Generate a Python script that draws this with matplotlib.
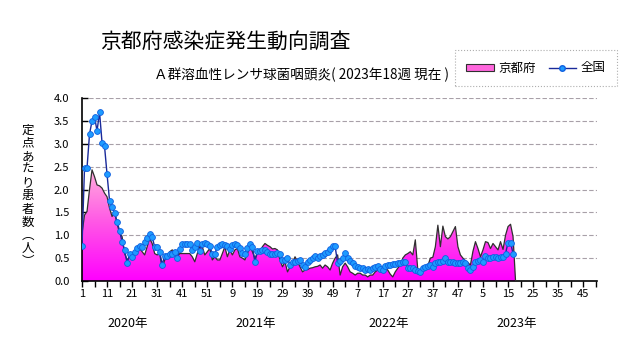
import numpy as np
import matplotlib
matplotlib.use("Agg")
import matplotlib.pyplot as plt
from matplotlib.colors import LinearSegmentedColormap
from matplotlib.patches import Patch
from matplotlib.lines import Line2D

plt.rcParams['font.family'] = ['Noto Sans CJK JP', 'DejaVu Sans']

# weekly values, index 0 = 2020 week 1 (52 weeks per year on this chart)
kyoto = [
    1.04, 1.44, 1.52, 2.00, 2.43, 2.28, 2.10, 2.08, 2.03, 1.92,
    1.84, 1.59, 1.41, 1.52, 1.26, 1.04, 0.97, 0.60, 0.46, 0.53,
    0.46, 0.60, 0.68, 0.71, 0.64, 0.57, 0.75, 0.93, 0.82, 0.60,
    0.57, 0.60, 0.28, 0.46, 0.50, 0.64, 0.68, 0.64, 0.53, 0.60,
    0.60, 0.60, 0.60, 0.60, 0.53, 0.42, 0.60, 0.75, 0.75, 0.57,
    0.64, 0.71, 0.46, 0.53, 0.46, 0.46, 0.60, 0.75, 0.53, 0.68,
    0.57, 0.68, 0.71, 0.53, 0.50, 0.46, 0.60, 0.75, 0.64, 0.50,
    0.60, 0.64, 0.75, 0.82, 0.78, 0.75, 0.70, 0.71, 0.68, 0.46,
    0.31, 0.42, 0.20, 0.31, 0.39, 0.53, 0.42, 0.31, 0.20, 0.24,
    0.25, 0.28, 0.29, 0.31, 0.32, 0.35, 0.28, 0.35, 0.31, 0.24,
    0.39, 0.50, 0.57, 0.13, 0.31, 0.39, 0.31, 0.20, 0.17, 0.13,
    0.17, 0.17, 0.13, 0.13, 0.09, 0.13, 0.13, 0.20, 0.24, 0.24,
    0.31, 0.28, 0.24, 0.15, 0.09, 0.20, 0.28, 0.35, 0.50, 0.57,
    0.60, 0.64, 0.57, 0.90, 0.24, 0.17, 0.24, 0.28, 0.33, 0.50,
    0.52, 0.75, 1.22, 0.75, 1.20, 0.97, 0.92, 0.97, 1.08, 1.19,
    0.75, 0.57, 0.50, 0.44, 0.40, 0.35, 0.65, 0.86, 0.71, 0.53,
    0.68, 0.86, 0.84, 0.71, 0.82, 0.75, 0.68, 0.86, 0.69, 1.00,
    1.19, 1.24, 0.97, 0.00,
]

national = [
    0.77, 2.47, 2.47, 3.21, 3.50, 3.59, 3.28, 3.69, 3.02, 2.94,
    2.33, 1.75, 1.62, 1.49, 1.29, 1.10, 0.85, 0.68, 0.39, 0.59,
    0.53, 0.64, 0.72, 0.77, 0.75, 0.86, 0.93, 1.02, 0.97, 0.74,
    0.74, 0.64, 0.36, 0.55, 0.55, 0.60, 0.60, 0.64, 0.50, 0.71,
    0.80, 0.80, 0.80, 0.80, 0.67, 0.74, 0.84, 0.66, 0.81, 0.84,
    0.81, 0.77, 0.58, 0.60, 0.74, 0.78, 0.81, 0.78, 0.77, 0.71,
    0.78, 0.81, 0.78, 0.72, 0.61, 0.60, 0.72, 0.81, 0.75, 0.41,
    0.66, 0.66, 0.68, 0.67, 0.63, 0.60, 0.60, 0.60, 0.62, 0.60,
    0.46, 0.45, 0.50, 0.35, 0.42, 0.42, 0.43, 0.46, 0.35, 0.31,
    0.41, 0.45, 0.50, 0.55, 0.50, 0.55, 0.57, 0.62, 0.64, 0.69,
    0.77, 0.76, 0.39, 0.44, 0.50, 0.62, 0.50, 0.44, 0.39, 0.33,
    0.31, 0.28, 0.29, 0.24, 0.26, 0.24, 0.28, 0.31, 0.33, 0.26,
    0.24, 0.33, 0.35, 0.35, 0.37, 0.37, 0.39, 0.39, 0.42, 0.42,
    0.28, 0.29, 0.28, 0.24, 0.22, 0.20, 0.28, 0.31, 0.33, 0.35,
    0.31, 0.39, 0.42, 0.41, 0.44, 0.50, 0.42, 0.42, 0.42, 0.40,
    0.39, 0.39, 0.42, 0.40, 0.28, 0.23, 0.31, 0.42, 0.44, 0.46,
    0.42, 0.55, 0.51, 0.50, 0.53, 0.53, 0.50, 0.53, 0.53, 0.60,
    0.84, 0.84, 0.60,
]

week_labels = ['1', '11', '21', '31', '41', '51', '9', '19', '29', '39', '49',
               '7', '17', '27', '37', '47', '5', '15', '25', '35', '45']
year_labels = ['2020年', '2021年', '2022年', '2023年']

W, H = 631, 347
fig = plt.figure(figsize=(W / 100, H / 100), dpi=100)
ax = fig.add_axes([82 / W, 1 - 281 / H, (597 - 82) / W, (281 - 98) / H])

xk = np.arange(len(kyoto))
xn = np.arange(len(national))

# gradient fill for Kyoto
cmap = LinearSegmentedColormap.from_list('kp', ['#ff00ff', '#ff55e6', '#ffb4dc'])
grad = np.linspace(0, 1, 256).reshape(-1, 1)
im = ax.imshow(grad, extent=[0, 205.5, 0, 2.5], origin='lower', aspect='auto',
               cmap=cmap, zorder=2)
poly = ax.fill_between(xk, 0, kyoto, facecolor='none', edgecolor='none', zorder=2)
im.set_clip_path(poly.get_paths()[0], transform=ax.transData)
ax.plot(xk, kyoto, color='#303030', lw=0.9, zorder=3)

ax.plot(xn, national, color='#1a2a9a', lw=1.0, marker='o', markersize=4.2,
        markerfacecolor='#1e9bff', markeredgecolor='#1060e0', markeredgewidth=0.6,
        zorder=4)

ax.set_xlim(0, 205.5)
ax.set_ylim(0, 4.0)
ax.set_yticks(np.arange(0, 4.01, 0.5))
ax.set_yticklabels([f'{v:.1f}' for v in np.arange(0, 4.01, 0.5)])
ax.yaxis.grid(True, linestyle=(0, (4, 2)), color='#a8a0a8', lw=0.8, zorder=1)
ax.set_xticks(np.arange(0, 201, 10))
ax.set_xticklabels(week_labels)
ax.set_xticks(np.arange(5, 206, 10), minor=True)
ax.tick_params(axis='x', which='both', direction='out', length=4, width=1,
               pad=2, labelsize=8)
ax.tick_params(axis='y', direction='in', length=4, width=1, pad=9, labelsize=8)
for s in ['top', 'right']:
    ax.spines[s].set_visible(False)
ax.spines['left'].set_linewidth(1.2)
ax.spines['bottom'].set_linewidth(1.2)

for lab, px in zip(year_labels, [128, 256, 389, 517]):
    fig.text(px / W, 1 - 323 / H, lab, ha='center', va='center', fontsize=9)

fig.text(100 / W, 1 - 42 / H, '京都府感染症発生動向調査', ha='left', va='center',
         fontsize=15)
fig.text(301 / W, 1 - 75 / H, 'Ａ群溶血性レンサ球菌咽頭炎( 2023年18週 現在 )',
         ha='center', va='center', fontsize=9.8)

ylab = '定点あたり患者数︵人︶'
fig.text(28 / W, 1 - 196 / H, '\n'.join(ylab), ha='center', va='center',
         fontsize=9, linespacing=1.02)

handles = [Patch(facecolor='#ff66dd', edgecolor='#303030', lw=0.8),
           Line2D([], [], color='#1a2a9a', lw=1.0, marker='o', markersize=4,
                  markerfacecolor='#1e9bff', markeredgecolor='#1060e0')]
leg = fig.legend(handles, ['京都府', '全国'], loc='center', ncol=2,
                 bbox_to_anchor=(536 / W, 1 - 68 / H), fontsize=9,
                 frameon=True, fancybox=False, edgecolor='#9a9a9a',
                 handlelength=2.2, handleheight=0.5, columnspacing=1.0,
                 handletextpad=0.4, borderpad=0.9)
leg.get_frame().set_linestyle(':')
leg.get_frame().set_linewidth(0.8)

fig.savefig('out.png', dpi=100)
